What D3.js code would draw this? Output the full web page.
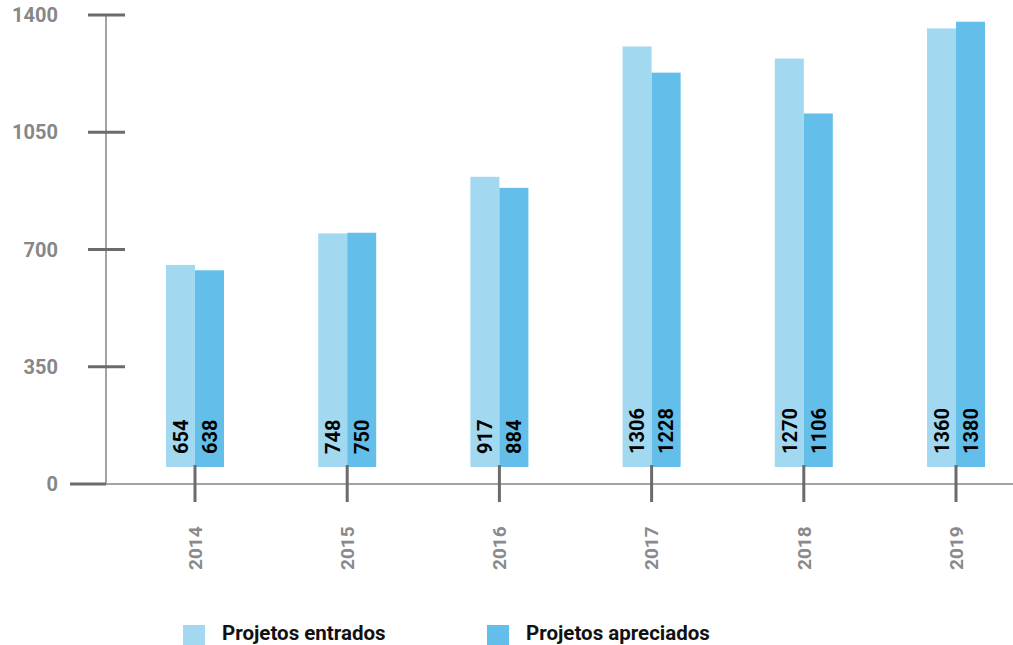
<!DOCTYPE html>
<html>
<head>
<meta charset="utf-8">
<script src="https://cdn.jsdelivr.net/npm/d3@7"></script>
<style>
  html, body { margin: 0; padding: 0; background: #fff; }
  svg { display: block; }
  text { font-family: Roboto, "Liberation Sans", sans-serif; font-weight: 700; }
</style>
</head>
<body>
<svg id="chart" width="1013" height="645"></svg>
<script>
// Project counts per year
const years = ["2014", "2015", "2016", "2017", "2018", "2019"];
const entrados = [654, 748, 917, 1306, 1270, 1360];
const apreciados = [638, 750, 884, 1228, 1106, 1380];
const yTicks = [0, 350, 700, 1050, 1400];
const seriesNames = ["Projetos entrados", "Projetos apreciados"];
const seriesColors = ["#a2d9f0", "#63bee9"];

const svg = d3.select("#chart");
const W = 1013, H = 645;

const y = d3.scaleLinear().domain([0, 1400]).range([484, 15]);
const x = d3.scalePoint().domain(years).range([195, 956]);
const barW = 29;
const barLift = 17; // bars float slightly above the baseline

// Y axis: light spine, dark ticks crossing it
const yAxisX = 106;
svg.append("line")
  .attr("x1", yAxisX).attr("x2", yAxisX)
  .attr("y1", y(1400)).attr("y2", y(0))
  .attr("stroke", "#a3a3a3").attr("stroke-width", 2);

// X axis baseline
svg.append("line")
  .attr("x1", 70).attr("x2", W)
  .attr("y1", y(0)).attr("y2", y(0))
  .attr("stroke", "#a3a3a3").attr("stroke-width", 2);

const yt = svg.append("g");
yt.selectAll("line").data(yTicks).join("line")
  .attr("x1", d => d === 0 ? 70 : 88)
  .attr("x2", d => d === 0 ? yAxisX : 125)
  .attr("y1", d => y(d)).attr("y2", d => y(d))
  .attr("stroke", "#6b6b6b").attr("stroke-width", 3);
yt.selectAll("text").data(yTicks).join("text")
  .attr("x", 58).attr("y", d => y(d))
  .attr("dy", "0.35em")
  .attr("text-anchor", "end")
  .attr("font-size", 20)
  .attr("fill", "#878787")
  .text(d => d);

// Bars
const series = [entrados, apreciados];
const groups = svg.append("g");
series.forEach((vals, si) => {
  groups.append("g").selectAll("rect").data(vals).join("rect")
    .attr("x", (d, i) => x(years[i]) + (si === 0 ? -barW : 0))
    .attr("y", d => y(d))
    .attr("width", barW)
    .attr("height", d => y(0) - barLift - y(d))
    .attr("fill", seriesColors[si]);
});

// X ticks at each year
svg.append("g").selectAll("line").data(years).join("line")
  .attr("x1", d => x(d)).attr("x2", d => x(d))
  .attr("y1", 465).attr("y2", 502)
  .attr("stroke", "#6b6b6b").attr("stroke-width", 3);

// Value labels, rotated inside the bars
series.forEach((vals, si) => {
  svg.append("g").selectAll("text").data(vals).join("text")
    .attr("transform", (d, i) => {
      const cx = x(years[i]) + (si === 0 ? -barW / 2 : barW / 2);
      return `translate(${cx},${y(0) - barLift - 13}) rotate(-90)`;
    })
    .attr("dy", "0.36em")
    .attr("text-anchor", "start")
    .attr("font-size", 20)
    .attr("fill", "#000")
    .text(d => d);
});

// Year labels, reading upward from below the ticks
svg.append("g").selectAll("text").data(years).join("text")
  .attr("transform", d => `translate(${x(d)},570) rotate(-90)`)
  .attr("dy", "0.36em")
  .attr("text-anchor", "start")
  .attr("font-size", 19)
  .attr("fill", "#8a8a8a")
  .text(d => d);

// Legend
const legendX = [183, 487];
const lg = svg.append("g");
seriesNames.forEach((name, i) => {
  lg.append("rect")
    .attr("x", legendX[i]).attr("y", 625)
    .attr("width", 22).attr("height", 22)
    .attr("fill", seriesColors[i]);
  lg.append("text")
    .attr("x", legendX[i] + 39).attr("y", 640)
    .attr("font-size", 20.5)
    .attr("fill", "#111")
    .text(name);
});
</script>
</body>
</html>
